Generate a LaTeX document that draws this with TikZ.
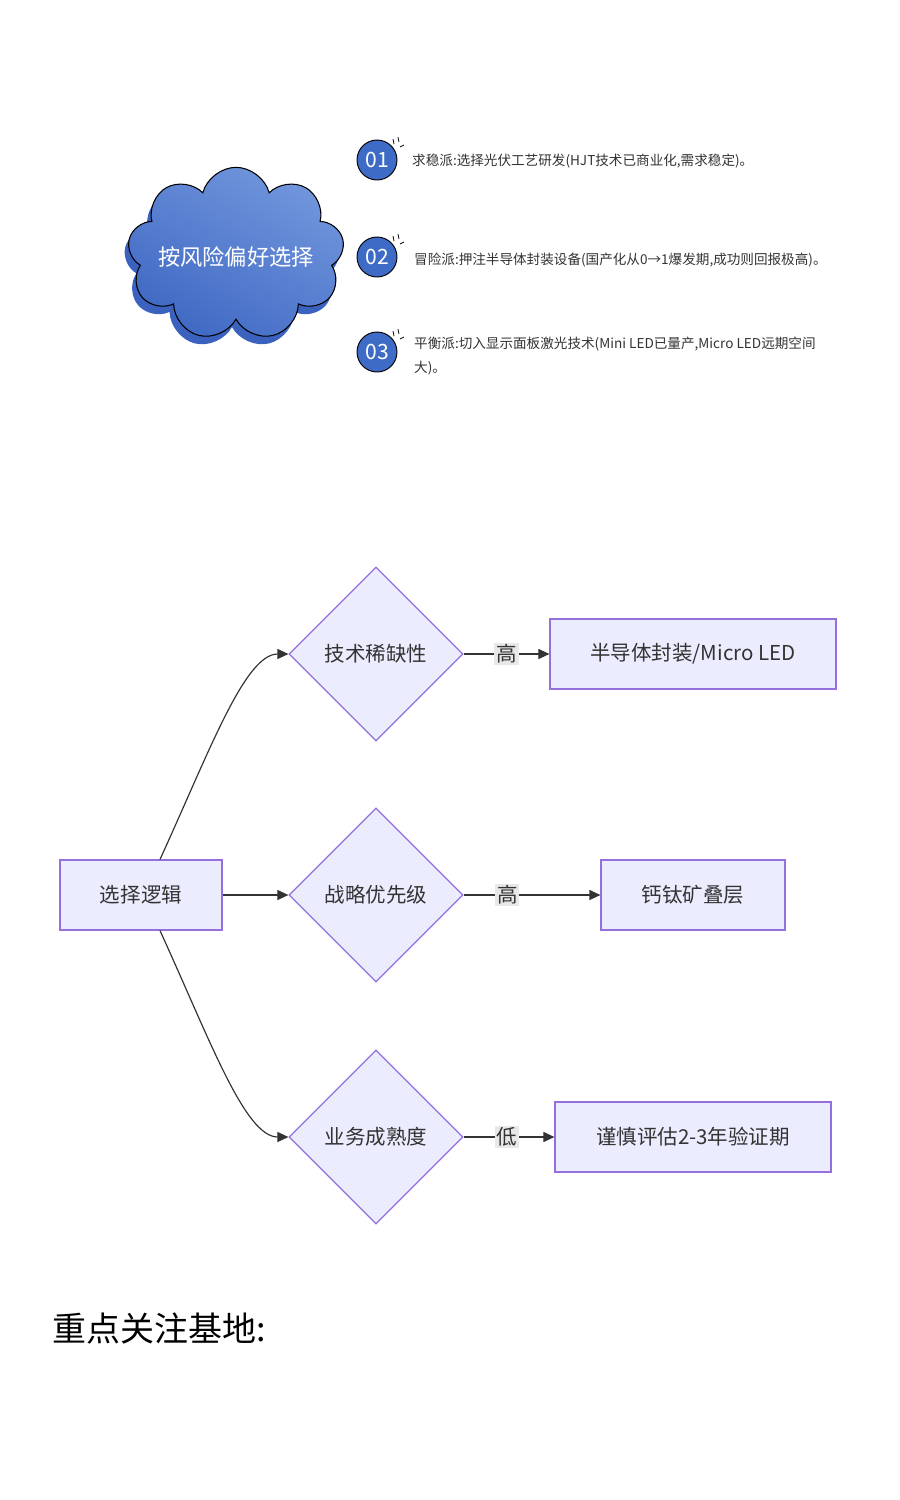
\documentclass[tikz,border=0pt]{standalone}
\usepackage{fontspec}
\setmainfont{Noto Sans CJK SC}
\usetikzlibrary{shapes.geometric,shapes.symbols,arrows.meta}

\definecolor{boxfill}{HTML}{ECECFF}
\definecolor{boxline}{HTML}{9370DB}
\definecolor{ink}{HTML}{333333}
\definecolor{tagbg}{HTML}{E8E8E8}
\definecolor{cloudlight}{HTML}{7196DC}
\definecolor{clouddark}{HTML}{4069C4}
\definecolor{cloudshade}{HTML}{3A62BE}
\definecolor{badgeblue}{HTML}{3D6BC5}

\tikzset{
  box/.style={draw=boxline, fill=boxfill, line width=1pt, minimum height=2.1cm,
    text=ink, font=\fontsize{17.5}{20}\selectfont},
  choice/.style={diamond, draw=boxline, fill=boxfill, line width=1pt, aspect=1,
    minimum width=5.22cm, minimum height=5.22cm, inner sep=0pt,
    text=ink, font=\fontsize{17.5}{20}\selectfont},
  flow/.style={draw=ink, line width=1pt, -{Triangle[length=0.33cm,width=0.3cm]}},
  tag/.style={fill=tagbg, inner sep=1.5pt, text=ink, font=\fontsize{17.5}{20}\selectfont},
  badge/.style={circle, draw=black, line width=0.8pt, fill=badgeblue, minimum size=1.2cm,
    inner sep=0pt, text=white, font=\fontsize{18}{18}\selectfont},
  item/.style={anchor=west, inner sep=0pt, align=left, text=ink,
    font=\fontsize{11.6}{20.5}\selectfont},
}

\begin{document}
\begin{tikzpicture}[x=0.03cm, y=-0.03cm]
  \useasboundingbox[fill=white] (0,0) rectangle (900,1500);

  % cloud
  \node[cloud, cloud puffs=9, minimum width=6.5cm, minimum height=5.2cm, fill=cloudshade] at (232,262) {};
  \node[cloud, cloud puffs=9, minimum width=6.5cm, minimum height=5.2cm,
        top color=cloudlight, bottom color=clouddark, shading angle=-30,
        draw=black, line width=0.9pt] (C) at (236,254) {};
  \node[text=white, font=\fontsize{19}{20}\selectfont] (Ct) at (236,257) {按风险偏好选择};

  % numbered items
  \node[badge] (b1) at (377,160) {01};
  \node[badge] (b2) at (377,257) {02};
  \node[badge] (b3) at (377,352) {03};
  \foreach \b in {b1,b2,b3}{
    \draw[line width=0.6pt] (\b.center) ++(16,-21) -- ++(1,5);
    \draw[line width=0.6pt] (\b.center) ++(21,-23) -- ++(1,5);
    \draw[line width=0.6pt] (\b.center) ++(23,-13) -- ++(4,-2);
  }
  \node[item] (t1) at (412,161) {求稳派:选择光伏工艺研发(HJT技术已商业化,需求稳定)。};
  \node[item] (t2) at (414,260) {冒险派:押注半导体封装设备(国产化从0→1爆发期,成功则回报极高)。};
  \node[item] (t3) at (414,356) {平衡派:切入显示面板激光技术(Mini LED已量产,Micro LED远期空间\\大)。};

  % flow chart
  \node[box, minimum width=4.86cm] (S) at (141,895) {选择逻辑};

  \node[choice] (D1) at (376,654) {技术稀缺性};
  \node[choice] (D2) at (376,895) {战略优先级};
  \node[choice] (D3) at (376,1137) {业务成熟度};

  \node[box, minimum width=8.58cm] (R1) at (693,654) {半导体封装/Micro LED};
  \node[box, minimum width=5.52cm] (R2) at (693,895) {钙钛矿叠层};
  \node[box, minimum width=8.28cm] (R3) at (693,1137) {谨慎评估2-3年验证期};

  \draw[flow] ([xshift=0.57cm]S.north) .. controls (210,750) and (245,654) .. (D1.west);
  \draw[flow] (S) -- (D2);
  \draw[flow] ([xshift=0.57cm]S.south) .. controls (210,1040) and (245,1137) .. (D3.west);

  \draw[flow] (D1.east) -- (R1.west) node[tag, pos=0.5] {高};
  \draw[flow] (D2.east) -- (R2.west) node[tag, pos=0.32] {高};
  \draw[flow] (D3.east) -- (R3.west) node[tag, pos=0.48] {低};

  \node[anchor=west, inner sep=0pt, font=\fontsize{29}{32}\selectfont] (F) at (52,1328) {重点关注基地:};
\end{tikzpicture}
\end{document}
